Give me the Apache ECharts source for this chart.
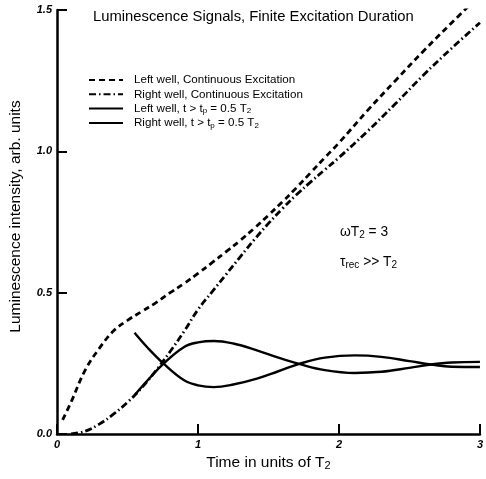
<!DOCTYPE html>
<html>
<head>
<meta charset="utf-8">
<script src="https://cdn.jsdelivr.net/npm/echarts@6/dist/echarts.min.js"></script>
<style>
  html, body { margin: 0; padding: 0; background: #fff; }
  #chart { width: 486px; height: 479px; }
</style>
</head>
<body>
<div id="chart"></div>
<script>
// values, [time in T2, intensity]
const leftContinuous = [
  [0.04, 0.05], [0.1, 0.113], [0.2, 0.226], [0.3, 0.303], [0.4, 0.364],
  [0.5, 0.402], [0.6, 0.433], [0.7, 0.464], [0.8, 0.499], [0.9, 0.532],
  [1.0, 0.568], [1.1, 0.606], [1.2, 0.645], [1.3, 0.685], [1.4, 0.728],
  [1.5, 0.774], [1.6, 0.822], [1.7, 0.872], [1.8, 0.925], [1.9, 0.978],
  [2.0, 1.03], [2.2, 1.143], [2.4, 1.25], [2.6, 1.355], [2.8, 1.455], [2.95, 1.528]
];
const rightContinuous = [
  [0.1, 0.0], [0.2, 0.01], [0.3, 0.035], [0.4, 0.07], [0.5, 0.112],
  [0.6, 0.163], [0.7, 0.223], [0.8, 0.29], [0.9, 0.362], [1.0, 0.44],
  [1.1, 0.503], [1.2, 0.565], [1.3, 0.627], [1.4, 0.688], [1.5, 0.745],
  [1.6, 0.798], [1.7, 0.847], [1.8, 0.892], [1.9, 0.935], [2.0, 0.978],
  [2.2, 1.07], [2.4, 1.168], [2.6, 1.27], [2.8, 1.365], [3.0, 1.455]
];
const leftPulse = [
  [0.55, 0.358], [0.643, 0.305], [0.756, 0.249], [0.902, 0.19], [1.0, 0.172],
  [1.113, 0.166], [1.25, 0.175], [1.418, 0.196], [1.57, 0.222], [1.724, 0.249],
  [1.9, 0.27], [2.112, 0.278], [2.3, 0.273], [2.5, 0.258], [2.652, 0.246],
  [2.8, 0.238], [3.0, 0.237]
];
const rightPulse = [
  [0.55, 0.137], [0.643, 0.19], [0.756, 0.249], [0.902, 0.308], [1.0, 0.324],
  [1.113, 0.329], [1.25, 0.32], [1.418, 0.296], [1.57, 0.27], [1.724, 0.247],
  [1.9, 0.226], [2.112, 0.216], [2.3, 0.22], [2.5, 0.234], [2.652, 0.246],
  [2.8, 0.253], [3.0, 0.255]
];
const seriesNames = [
  'Left well, Continuous Excitation',
  'Right well, Continuous Excitation',
  'Left well, t > tp = 0.5 T2',
  'Right well, t > tp = 0.5 T2'
];
const legendLabels = {
  'Left well, Continuous Excitation': 'Left well, Continuous Excitation',
  'Right well, Continuous Excitation': 'Right well, Continuous Excitation',
  'Left well, t > tp = 0.5 T2': 'Left well, t > t{s|p} = 0.5 T{s|2}',
  'Right well, t > tp = 0.5 T2': 'Right well, t > t{s|p} = 0.5 T{s|2}'
};

const FONT = '"Liberation Sans", Arial, Helvetica, sans-serif';
const sub = function(size, drop) {
  return { fontSize: size, fontFamily: FONT, color: '#000', padding: [drop, 0, 0, 0] };
};

const chart = echarts.init(document.getElementById('chart'), null, { renderer: 'canvas' });

const lineSeries = function(name, data, type, width) {
  return {
    name: name,
    type: 'line',
    data: data,
    smooth: 0.4,
    symbol: 'none',
    showSymbol: false,
    clip: true,
    color: '#000',
    lineStyle: { color: '#000', width: width, type: type }
  };
};

chart.setOption({
  animation: false,
  backgroundColor: '#fff',
  title: {
    text: 'Luminescence Signals, Finite Excitation Duration',
    left: 93,
    top: 9,
    padding: 0,
    textStyle: { fontFamily: FONT, fontSize: 14.8, fontWeight: 'normal', color: '#000' }
  },
  legend: {
    orient: 'vertical',
    left: 88,
    top: 73,
    padding: 0,
    itemWidth: 34,
    itemHeight: 14,
    itemGap: 0.3,
    data: seriesNames,
    itemStyle: { opacity: 0 },
    formatter: function(name) { return legendLabels[name]; },
    textStyle: {
      fontFamily: FONT, fontSize: 11.6, color: '#000', padding: [0, 0, 0, 6],
      lineHeight: 14,
      rich: { s: sub(8, 5) }
    }
  },
  grid: { left: 57, right: 4, top: 10, bottom: 45, containLabel: false },
  xAxis: {
    type: 'value',
    min: 0, max: 3, interval: 1,
    name: 'Time in units of T{s|2}',
    nameLocation: 'middle',
    nameGap: 20,
    nameTextStyle: {
      fontFamily: FONT, fontSize: 15.5, color: '#000',
      rich: { s: sub(11, 6) }
    },
    axisLine: { lineStyle: { color: '#000', width: 2.5 } },
    axisTick: { inside: true, length: 10, lineStyle: { color: '#000', width: 2 } },
    axisLabel: {
      fontFamily: FONT, fontSize: 11, fontWeight: 'bold', fontStyle: 'italic',
      color: '#000', margin: 5
    },
    splitLine: { show: false }
  },
  yAxis: {
    type: 'value',
    min: 0, max: 1.5, interval: 0.5,
    name: 'Luminescence intensity, arb. units',
    nameLocation: 'middle',
    nameRotate: 90,
    nameGap: 33,
    nameTextStyle: {
      fontFamily: FONT, fontSize: 15.5, color: '#000', padding: [0, 0, 0, 11]
    },
    axisLine: { show: true, lineStyle: { color: '#000', width: 2.5 } },
    axisTick: { show: true, inside: true, length: 10, lineStyle: { color: '#000', width: 2 } },
    axisLabel: {
      fontFamily: FONT, fontSize: 11, fontWeight: 'bold', fontStyle: 'italic',
      color: '#000', margin: 5,
      formatter: function(v) { return v.toFixed(1); }
    },
    splitLine: { show: false }
  },
  graphic: [
    {
      type: 'text', left: 340, top: 225,
      style: {
        text: 'ωT{s|2} = 3',
        fontFamily: FONT, fontSize: 13.8, fill: '#000',
        rich: { s: sub(10, 6) }
      }
    },
    {
      type: 'text', left: 340, top: 255,
      style: {
        text: 'τ{s|rec} >> T{s|2}',
        fontFamily: FONT, fontSize: 13.8, fill: '#000',
        rich: { s: sub(10, 6) }
      }
    }
  ],
  series: [
    lineSeries(seriesNames[0], leftContinuous, [6, 4], 2.8),
    lineSeries(seriesNames[1], rightContinuous, [7, 3, 1.5, 3], 2.8),
    lineSeries(seriesNames[2], leftPulse, 'solid', 2.4),
    lineSeries(seriesNames[3], rightPulse, 'solid', 2.4)
  ]
});
</script>
</body>
</html>
